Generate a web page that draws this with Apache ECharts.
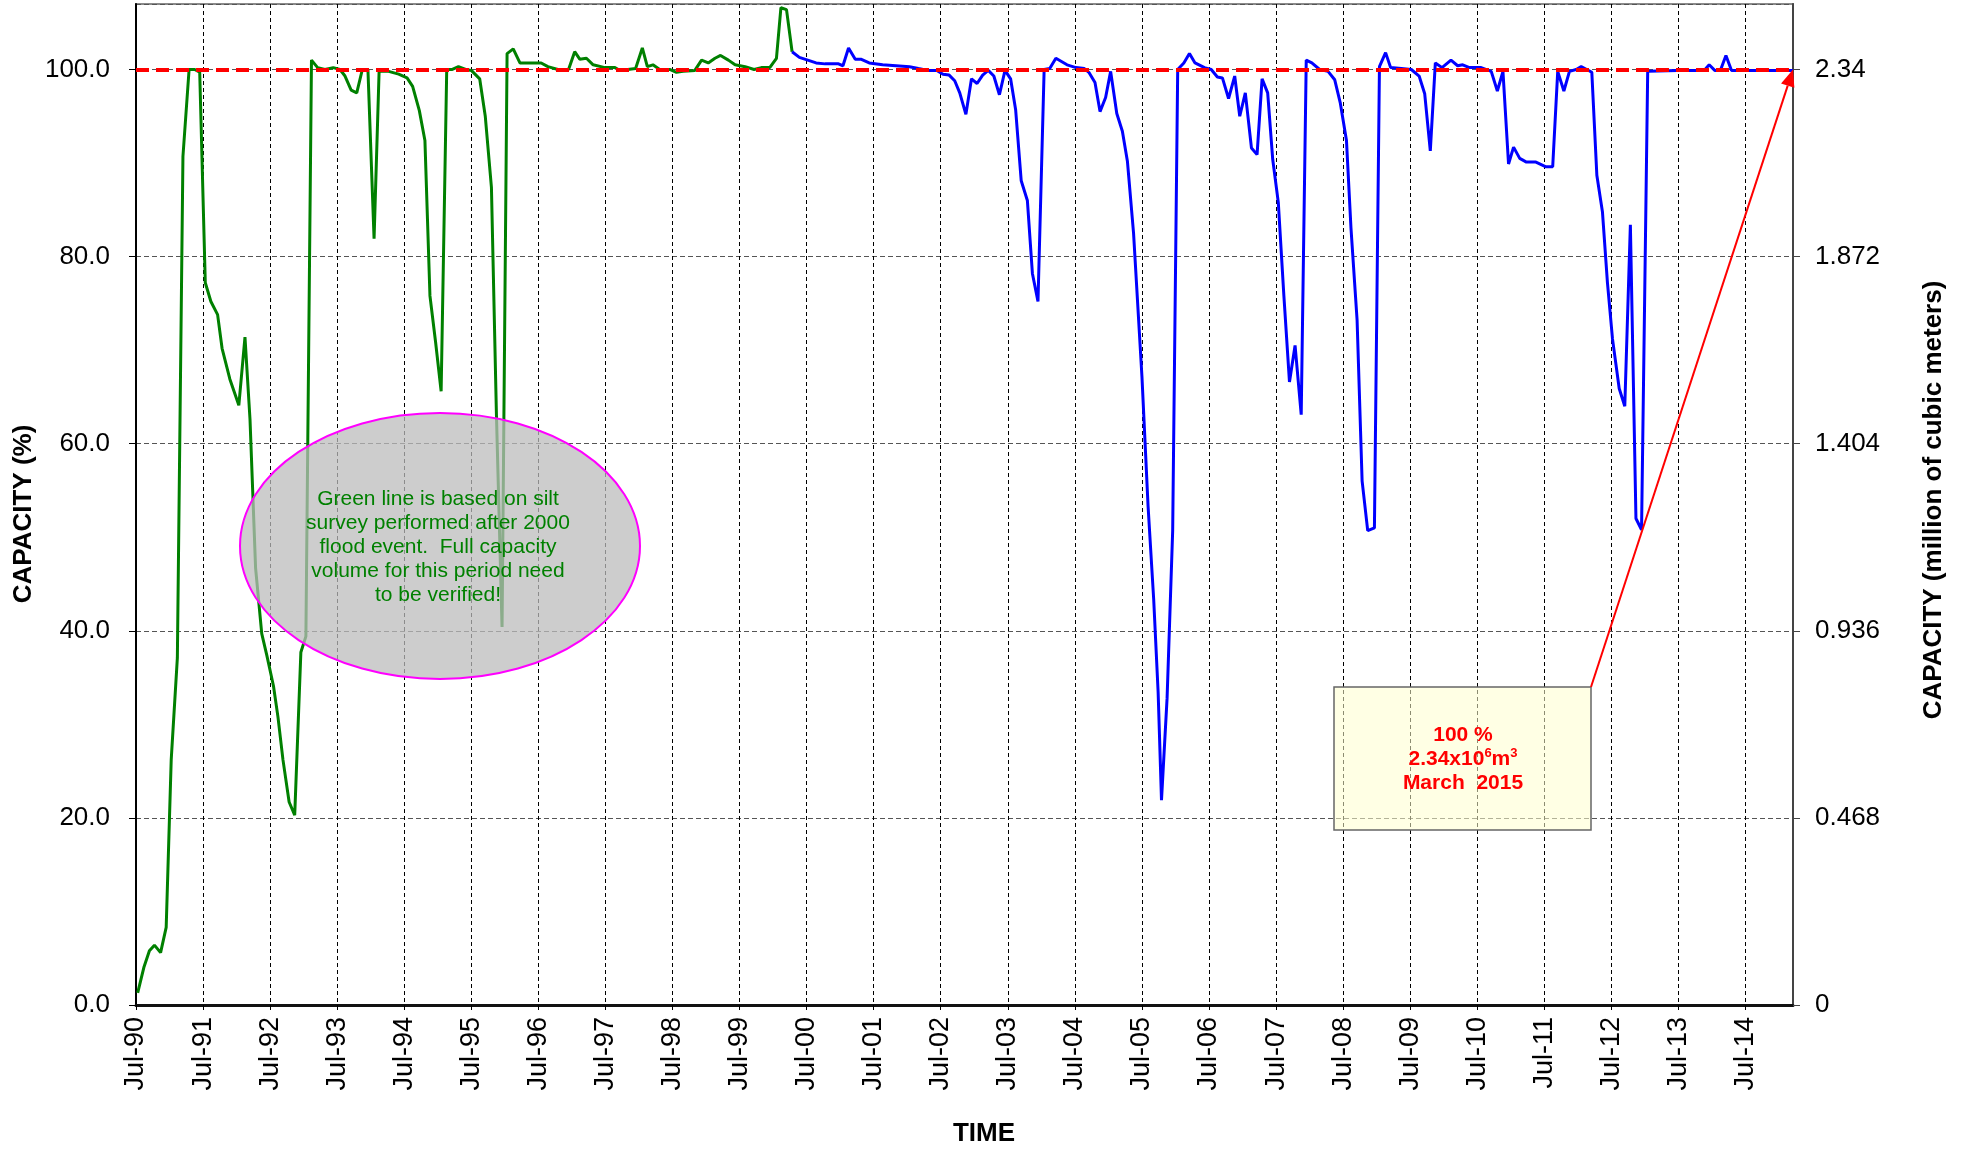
<!DOCTYPE html>
<html>
<head>
<meta charset="utf-8">
<script src="https://cdn.jsdelivr.net/npm/echarts@6/dist/echarts.min.js"></script>
<style>
html,body{margin:0;padding:0;background:#fff;}
#main{width:1969px;height:1150px;}
</style>
</head>
<body>
<div id="main"></div>
<script>
// x values: months after July 1990 (0 = Jul-90)
const xTickLabels = ['Jul-90','Jul-91','Jul-92','Jul-93','Jul-94','Jul-95','Jul-96','Jul-97','Jul-98','Jul-99','Jul-00','Jul-01','Jul-02','Jul-03','Jul-04','Jul-05','Jul-06','Jul-07','Jul-08','Jul-09','Jul-10','Jul-11','Jul-12','Jul-13','Jul-14'];
const xMaxMonth = 296.5; // March 2015
const fullCapacity = 2.34; // million m3 at 100 %
const rightTickLabels = ['0','0.468','0.936','1.404','1.872','2.34'];

const greenMonth = [0.3,1.4,2.4,3.3,4.4,5.4,6.3,7.4,8.4,9.5,10.5,11.4,12.4,13.4,14.6,15.4,16.8,18.4,19.5,20.4,21.4,22.5,23.4,24.6,25.4,26.3,27.4,28.4,29.5,30.4,31.4,32.5,33.8,35.3,36.5,37.4,38.5,39.5,40.5,41.5,42.6,43.5,45.2,47,48.5,49.5,50.7,51.7,52.6,53.6,54.6,55.6,56.6,57.7,59,60,61.5,62.5,63.6,64.5,65.5,66.4,67.5,68.7,70.4,72.5,73.7,75.5,77.4,78.5,79.4,80.6,81.8,83.9,85.7,86.3,88,89.4,90.6,91.5,92.5,93.7,95.5,96.7,97.9,100,101.2,102.4,103.6,104.6,106,107.2,109,110.6,111.9,113.4,114.6,115.4,116.4,117.4];
const greenValue = [1.3,4.0,5.8,6.4,5.6,8.3,26.2,37.1,90.7,100,100,99.7,77.2,75.2,73.8,70.2,66.9,64.1,71.4,62.6,46.7,39.7,37.4,34.1,30.8,26.2,21.7,20.3,37.7,39.4,101.0,100.2,100,100.2,100,99.3,97.8,97.5,100,100,81.9,99.8,99.8,99.5,99.1,98.2,95.6,92.4,75.8,70.9,65.6,100,100,100.3,100,99.9,99,95,87.4,63,40.4,101.7,102.2,100.7,100.7,100.7,100.3,100,100,101.9,101.1,101.2,100.5,100.2,100.2,100,100,100.1,102.3,100.3,100.5,100,100,99.7,99.8,99.9,101,100.7,101.2,101.5,101,100.5,100.3,100,100.2,100.2,101.2,106.6,106.4,101.9];

const blueMonth = [117.4,118.7,120.2,121.7,123.3,125.7,126.5,127.5,128.7,129.7,131.2,133.6,136,138.4,140,141.7,143.3,144.4,145.5,146.5,147.4,148.5,149.5,150.5,151.5,152.5,153.5,154.5,155.5,156.5,157.4,158.4,159.5,160.4,161.4,162.5,163.5,164.6,166.6,168.2,169.7,170.5,171.6,172.5,173.5,174.4,175.5,176.5,177.4,178.5,180,181.1,182.1,182.9,183.5,184.5,185.5,186.4,187.5,188.5,189.5,191.2,192.4,193.5,194.4,195.5,196.6,197.5,198.5,199.6,200.6,201.5,202.5,203.4,204.4,205.4,206.4,207.4,208.5,209.4,210.4,211.8,213.3,214.5,215.5,216.6,217.4,218.5,219.4,220.4,221.6,222.5,223.6,224.5,226.4,228.2,229.6,230.6,231.6,232.5,233.7,235.3,236.5,237.4,238.6,240.7,242.5,243.6,244.6,245.6,246.5,247.6,248.8,250.5,252.3,253.5,254.4,255.5,256.5,257.7,258.6,259.6,260.5,261.4,262.4,263.3,264.2,265.4,266.4,267.4,268.4,269.4,270.5,275.8,280.6,281.5,282.5,283.5,284.5,285.5,296.5];
const blueValue = [101.9,101.3,101,100.7,100.6,100.6,100.4,102.3,101.1,101.1,100.7,100.5,100.4,100.3,100.1,99.9,99.9,99.5,99.4,98.8,97.5,95.2,99,98.5,99.4,99.9,99.3,97.3,99.9,99,95.7,88.1,86,78.2,75.2,100,100.1,101.2,100.5,100.2,100.1,99.7,98.6,95.5,97,99.8,95.3,93.4,90.2,82.5,67.2,53.3,43.4,33.4,21.9,32.8,50.7,100,100.7,101.7,100.7,100.2,100,99.2,99.1,96.9,99.3,95,97.5,91.6,90.9,99,97.5,90.4,85.8,75.8,66.6,70.5,63.1,101,100.7,100,99.8,98.9,96.4,92.4,83.1,73.2,56,50.7,51,100.3,101.8,100.2,100.1,100,99.3,97.4,91.3,100.7,100.2,101,100.4,100.5,100.2,100.2,99.8,97.7,99.8,89.9,91.7,90.5,90.1,90.1,89.6,89.6,99.8,97.7,99.8,100,100.3,100,99.7,88.7,84.8,77.2,71.2,65.9,64,83.4,52,50.8,99.8,99.9,99.9,100.5,99.9,99.9,101.5,99.9,99.9];

const referenceLevel = 100;

const FONT = '"Liberation Sans", Arial, sans-serif';
const chart = echarts.init(document.getElementById('main'), null, {renderer: 'canvas'});

const greenData = greenMonth.map((m, i) => [m, greenValue[i]]);
const blueData = blueMonth.map((m, i) => [m, blueValue[i]]);

chart.setOption({
  animation: false,
  backgroundColor: '#ffffff',
  grid: {left: 136, right: 176, top: 4, bottom: 145, show: true, borderColor: '#8a8a8a', borderWidth: 2, backgroundColor: 'transparent'},
  xAxis: {
    type: 'value', min: 0, max: xMaxMonth, interval: 12,
    axisLine: {show: true, lineStyle: {color: '#111', width: 3}},
    axisTick: {show: true, length: 5, lineStyle: {color: '#000', width: 1}},
    axisLabel: {
      rotate: 90, margin: 12, fontFamily: FONT, fontSize: 27, color: '#000',
      showMaxLabel: false,
      formatter: v => xTickLabels[Math.round(v / 12)] || ''
    },
    splitLine: {show: true, lineStyle: {color: '#000', width: 1, type: [4, 3]}}
  },
  yAxis: [
    {
      type: 'value', min: 0, max: 107, interval: 20, position: 'left',
      axisLine: {show: true, lineStyle: {color: '#000', width: 2}},
      axisTick: {show: true, length: 7, lineStyle: {color: '#000'}},
      axisLabel: {margin: 26, fontFamily: FONT, fontSize: 26, color: '#000', showMaxLabel: false,
        formatter: v => v.toFixed(1)},
      splitLine: {show: true, lineStyle: {color: '#555', width: 1.2, type: [5, 3]}}
    },
    {
      type: 'value', min: 0, max: 107, interval: 20, position: 'right',
      axisLine: {show: true, lineStyle: {color: '#444', width: 2}},
      axisTick: {show: true, length: 7, lineStyle: {color: '#444'}},
      axisLabel: {margin: 22, fontFamily: FONT, fontSize: 26, color: '#000', showMaxLabel: false,
        formatter: v => rightTickLabels[Math.round(v / 20)] || ''},
      splitLine: {show: false}
    }
  ],
  series: [
    {
      name: 'Green', type: 'line', data: greenData, showSymbol: false, symbol: 'none',
      lineStyle: {color: '#008000', width: 3}, z: 2
    },
    {
      name: 'Blue', type: 'line', data: blueData, showSymbol: false, symbol: 'none',
      lineStyle: {color: '#0000ff', width: 3}, z: 2
    },
    {
      name: 'Full', type: 'line', data: [], z: 5,
      markLine: {
        silent: true, symbol: 'none', label: {show: false},
        lineStyle: {color: '#ff0000', width: 4, type: [13, 7]},
        data: [{yAxis: referenceLevel}]
      }
    }
  ]
});

const tip = chart.convertToPixel({xAxisIndex: 0, yAxisIndex: 0}, [xMaxMonth, referenceLevel]);
const start = [1591, 687];
const ang = Math.atan2(tip[1] - start[1], tip[0] - start[0]);
const headLen = 17, headW = 7;
const bx = tip[0] - headLen * Math.cos(ang), by = tip[1] - headLen * Math.sin(ang);
const px = -Math.sin(ang) * headW, py = Math.cos(ang) * headW;

chart.setOption({
  graphic: [
    {type: 'ellipse', z: 50, shape: {cx: 440, cy: 546, rx: 200, ry: 133},
      style: {fill: 'rgba(188,188,188,0.74)', stroke: '#ff00ff', lineWidth: 2}},
    {type: 'text', z: 51, x: 438, y: 547,
      style: {text: 'Green line is based on silt\nsurvey performed after 2000\nflood event.  Full capacity\nvolume for this period need\nto be verified!',
        fill: '#008000', font: '21px ' + FONT, align: 'center', verticalAlign: 'middle', lineHeight: 24}},
    {type: 'rect', z: 50, shape: {x: 1334, y: 687, width: 257, height: 143},
      style: {fill: 'rgba(255,255,205,0.55)', stroke: '#666', lineWidth: 1.5}},
    {type: 'text', z: 51, x: 1463, y: 759,
      style: {
        text: '{b|100 %}\n{b|2.34x10}{s|6}{b|m}{s|3}\n{b|March  2015}',
        align: 'center', verticalAlign: 'middle',
        rich: {
          b: {fill: '#ff0000', font: 'bold 21px ' + FONT, lineHeight: 24},
          s: {fill: '#ff0000', font: 'bold 13px ' + FONT, lineHeight: 24, verticalAlign: 'top'}
        }
      }},
    {type: 'line', z: 52, shape: {x1: start[0], y1: start[1], x2: bx, y2: by},
      style: {stroke: '#ff0000', lineWidth: 2}},
    {type: 'polygon', z: 52, shape: {points: [[tip[0], tip[1]], [bx + px, by + py], [bx - px, by - py]]},
      style: {fill: '#ff0000'}},
    {type: 'text', z: 60, x: 24, y: 514, rotation: Math.PI / 2,
      style: {text: 'CAPACITY (%)', font: 'bold 26px ' + FONT, fill: '#000', align: 'center', verticalAlign: 'middle'}},
    {type: 'text', z: 60, x: 1934, y: 500, rotation: Math.PI / 2,
      style: {text: 'CAPACITY (million of cubic meters)', font: 'bold 26px ' + FONT, fill: '#000', align: 'center', verticalAlign: 'middle'}},
    {type: 'text', z: 60, x: 984, y: 1134,
      style: {text: 'TIME', font: 'bold 26px ' + FONT, fill: '#000', align: 'center', verticalAlign: 'middle'}}
  ]
});
</script>
</body>
</html>
